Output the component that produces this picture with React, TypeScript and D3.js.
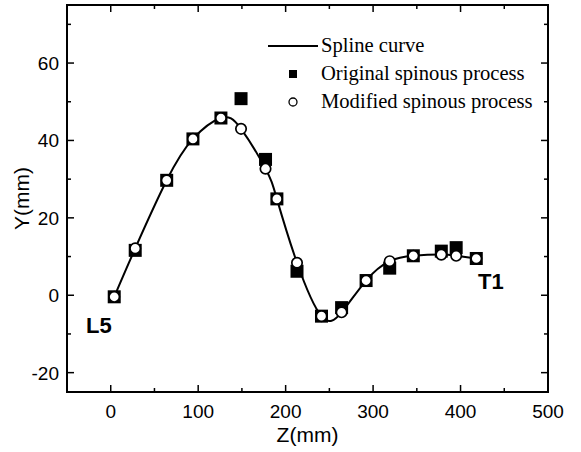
import React from "react";
import * as d3 from "d3";

// spinous process positions along the spine (mm)
const zValues = [4, 28, 64, 94, 126, 149, 177, 190, 213, 241, 264, 292, 319, 346, 378, 395, 418];
const originalY = [-0.4, 11.6, 29.7, 40.4, 45.8, 50.8, 35.1, 24.9, 6.2, -5.4, -3.2, 3.8, 7.0, 10.2, 11.4, 12.3, 9.5];
const modifiedY = [-0.4, 12.1, 29.7, 40.4, 45.8, 43.0, 32.7, 24.9, 8.4, -5.4, -4.4, 3.8, 8.8, 10.2, 10.5, 10.2, 9.5];

const xTicks = [0, 100, 200, 300, 400, 500];
const yTicks = [-20, 0, 20, 40, 60];
const legendLabels = ["Spline curve", "Original spinous process", "Modified spinous process"];

const width = 581;
const height = 452;
const margin = { top: 5, right: 33, bottom: 60, left: 67 };

const App = () => {
  const x = d3.scaleLinear().domain([-50, 500]).range([margin.left, width - margin.right]);
  const y = d3.scaleLinear().domain([-25, 75]).range([height - margin.bottom, margin.top]);

  const x0 = x.range()[0];
  const x1 = x.range()[1];
  const y0 = y.range()[0];
  const y1 = y.range()[1];

  // minor ticks every half step
  const xMinor = d3.range(-50, 501, 50).filter((v) => !xTicks.includes(v));
  const yMinor = d3.range(-20, 71, 10).filter((v) => !yTicks.includes(v));

  const line = d3
    .line<number>()
    .x((_, i) => x(zValues[i]))
    .y((d) => y(d))
    .curve(d3.curveNatural);

  const majorLen = 7;
  const minorLen = 4;
  const sans = "'Liberation Sans', Arial, sans-serif";
  const serif = "'Liberation Serif', 'Times New Roman', serif";

  return (
    <svg
      width={width}
      height={height}
      style={{ position: "absolute", left: 0, top: 0, background: "#fff" }}
    >
      {/* spline */}
      <path d={line(modifiedY) || ""} fill="none" stroke="#000" strokeWidth={2} />

      {/* original points */}
      {originalY.map((v, i) => (
        <rect
          key={"o" + i}
          x={x(zValues[i]) - 6.5}
          y={y(v) - 6.5}
          width={13}
          height={13}
          fill="#000"
        />
      ))}

      {/* modified points */}
      {modifiedY.map((v, i) => (
        <circle
          key={"m" + i}
          cx={x(zValues[i])}
          cy={y(v)}
          r={5.2}
          fill="#fff"
          stroke="#000"
          strokeWidth={1.7}
        />
      ))}

      {/* frame */}
      <rect x={x0} y={y1} width={x1 - x0} height={y0 - y1} fill="none" stroke="#000" strokeWidth={2} />

      {/* x ticks, bottom and top, pointing inward */}
      {xTicks.map((t) => (
        <g key={"xt" + t}>
          <line x1={x(t)} x2={x(t)} y1={y0} y2={y0 - majorLen} stroke="#000" strokeWidth={1.5} />
          <line x1={x(t)} x2={x(t)} y1={y1} y2={y1 + majorLen} stroke="#000" strokeWidth={1.5} />
          <text x={x(t)} y={y0 + 26} textAnchor="middle" fontFamily={sans} fontSize={19}>
            {t}
          </text>
        </g>
      ))}
      {xMinor.map((t) => (
        <g key={"xm" + t}>
          <line x1={x(t)} x2={x(t)} y1={y0} y2={y0 - minorLen} stroke="#000" strokeWidth={1.5} />
          <line x1={x(t)} x2={x(t)} y1={y1} y2={y1 + minorLen} stroke="#000" strokeWidth={1.5} />
        </g>
      ))}

      {/* y ticks, left and right */}
      {yTicks.map((t) => (
        <g key={"yt" + t}>
          <line x1={x0} x2={x0 + majorLen} y1={y(t)} y2={y(t)} stroke="#000" strokeWidth={1.5} />
          <line x1={x1} x2={x1 - majorLen} y1={y(t)} y2={y(t)} stroke="#000" strokeWidth={1.5} />
          <text x={x0 - 8} y={y(t) + 7} textAnchor="end" fontFamily={sans} fontSize={19}>
            {t}
          </text>
        </g>
      ))}
      {yMinor.map((t) => (
        <g key={"ym" + t}>
          <line x1={x0} x2={x0 + minorLen} y1={y(t)} y2={y(t)} stroke="#000" strokeWidth={1.5} />
          <line x1={x1} x2={x1 - minorLen} y1={y(t)} y2={y(t)} stroke="#000" strokeWidth={1.5} />
        </g>
      ))}

      {/* axis titles */}
      <text x={(x0 + x1) / 2} y={442} textAnchor="middle" fontFamily={sans} fontSize={21}>
        Z(mm)
      </text>
      <text
        transform={`translate(29, ${(y0 + y1) / 2}) rotate(-90)`}
        textAnchor="middle"
        fontFamily={sans}
        fontSize={21}
      >
        Y(mm)
      </text>

      {/* end labels */}
      <text x={86} y={333} fontFamily={sans} fontWeight="bold" fontSize={22}>
        L5
      </text>
      <text x={478} y={289} fontFamily={sans} fontWeight="bold" fontSize={22}>
        T1
      </text>

      {/* legend */}
      <g fontFamily={serif} fontSize={20.6}>
        <line x1={268} x2={318} y1={46} y2={46} stroke="#000" strokeWidth={2} />
        <text x={321} y={52}>{legendLabels[0]}</text>
        <rect x={289} y={70} width={8} height={8} fill="#000" />
        <text x={321} y={80}>{legendLabels[1]}</text>
        <circle cx={293} cy={102} r={4} fill="#fff" stroke="#000" strokeWidth={1.3} />
        <text x={321} y={108}>{legendLabels[2]}</text>
      </g>
    </svg>
  );
};

export default App;
